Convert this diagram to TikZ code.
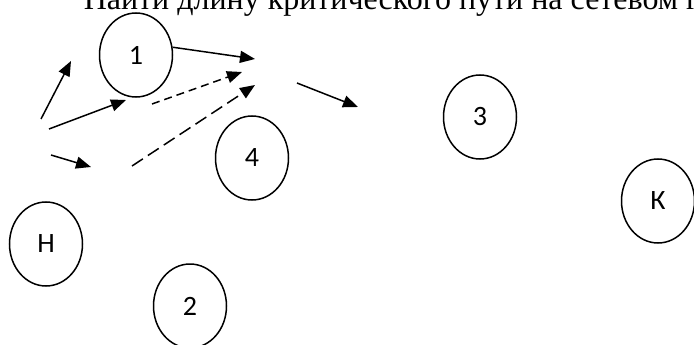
\documentclass[tikz,border=0pt]{standalone}
\usepackage{fontspec}
\setmainfont{Liberation Serif}
\newfontfamily\labelfont{Carlito}
\usetikzlibrary{arrows.meta}
\usetikzlibrary{shapes}

\begin{document}
\begin{tikzpicture}[x=1pt, y=-1pt, >={Triangle[length=15pt,width=12pt]}, line width=1.5pt,
	every node/.style={inner sep=0pt},
	event/.style={ellipse, draw, minimum width=73pt, minimum height=84pt, font=\labelfont\fontsize{28}{30}\selectfont},
	short dash/.style={dash pattern=on 8pt off 5pt},
	long dash/.style={dash pattern=on 13pt off 6pt}]
	\clip (0,0) rectangle (694,345);
	%Title
	\node [anchor=base west, font=\fontsize{32}{35}\selectfont] (title) at (83,10) {Найти длину критического пути на сетевом г};
	%Events
	\node [event] (n) at (46,244) {Н};
	\node [event] (e1) at (136,55) {1};
	\node [event] (e2) at (190,306) {2};
	\node [event] (e3) at (480,117) {3};
	\node [event] (e4) at (252,158) {4};
	\node [event] (k) at (658,201) {К};
	%Loose arrow ends
	\coordinate (a1s) at (41,119);
	\coordinate (a1e) at (71,61);
	\coordinate (a2s) at (49,129);
	\coordinate (a2e) at (126,100);
	\coordinate (a3s) at (51,155);
	\coordinate (a3e) at (91,167);
	\coordinate (a4e) at (255,59);
	\coordinate (a5s) at (152,104);
	\coordinate (a5e) at (242,72);
	\coordinate (a6s) at (132,166);
	\coordinate (a6e) at (255,85);
	\coordinate (a7s) at (297,83);
	\coordinate (a7e) at (358,107);
	%Arrows
	\draw[->] (a1s) -- (a1e);
	\draw[->] (a2s) -- (a2e);
	\draw[->] (a3s) -- (a3e);
	\draw[->] (e1.12) -- (a4e);
	\draw[->, short dash] (a5s) -- (a5e);
	\draw[->, long dash] (a6s) -- (a6e);
	\draw[->] (a7s) -- (a7e);
\end{tikzpicture}
\end{document}
